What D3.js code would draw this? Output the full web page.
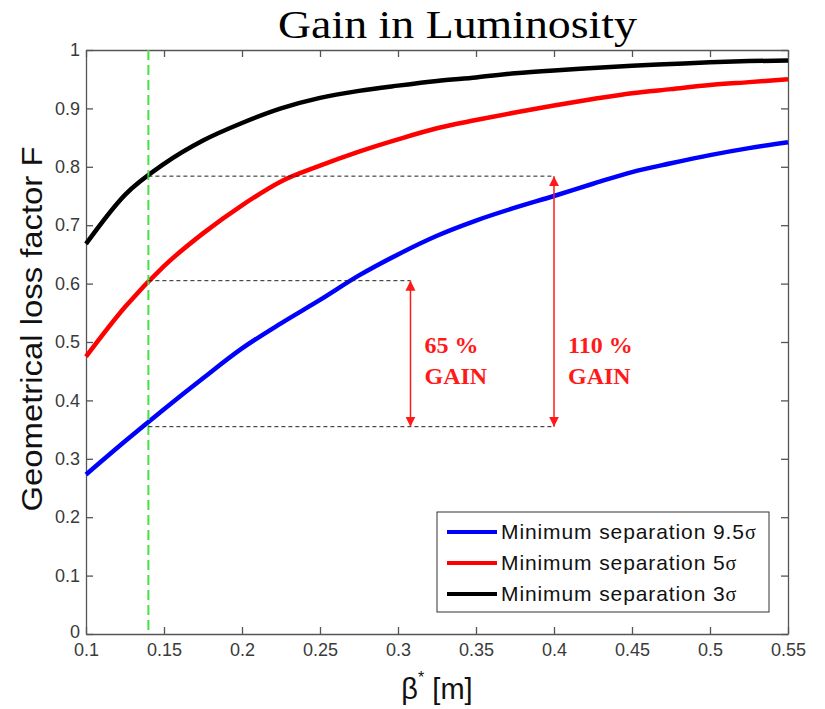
<!DOCTYPE html>
<html>
<head>
<meta charset="utf-8">
<script src="https://cdn.jsdelivr.net/npm/d3@7"></script>
<style>
  body { margin: 0; background: #fff; }
  svg { display: block; }
</style>
</head>
<body>
<svg id="chart" width="825" height="709"></svg>
<script>
// beta* values [m]
var betaValues = [0.1, 0.125, 0.15, 0.175, 0.2, 0.225, 0.25, 0.275, 0.3, 0.325, 0.35, 0.375, 0.4, 0.425, 0.45, 0.475, 0.5, 0.525, 0.55];

// geometrical loss factor
var lossSep95 = [0.273, 0.330, 0.385, 0.438, 0.489, 0.532, 0.572, 0.614, 0.650, 0.682, 0.708, 0.730, 0.750, 0.771, 0.791, 0.806, 0.820, 0.832, 0.842];
var lossSep5 = [0.475, 0.560, 0.630, 0.686, 0.734, 0.775, 0.802, 0.826, 0.847, 0.866, 0.880, 0.893, 0.905, 0.916, 0.926, 0.933, 0.940, 0.945, 0.950];
var lossSep3 = [0.668, 0.752, 0.805, 0.845, 0.875, 0.900, 0.918, 0.930, 0.939, 0.947, 0.953, 0.960, 0.965, 0.969, 0.973, 0.976, 0.979, 0.981, 0.982];

var seriesNames = ["Minimum separation 9.5", "Minimum separation 5", "Minimum separation 3"];
var seriesColors = ["#0000ff", "#ff0000", "#000000"];

var xTicks = [0.1, 0.15, 0.2, 0.25, 0.3, 0.35, 0.4, 0.45, 0.5, 0.55];
var yTicks = [0, 0.1, 0.2, 0.3, 0.4, 0.5, 0.6, 0.7, 0.8, 0.9, 1];

// the reference beta* and the gain markers
var betaRef = 0.14;
var gainLevels = [0.784, 0.605, 0.355];
var gainArrows = [
  { beta: 0.308, from: 0.355, to: 0.605, label: ["65 %", "GAIN"] },
  { beta: 0.4, from: 0.355, to: 0.784, label: ["110 %", "GAIN"] }
];

var margin = { left: 86, top: 50, right: 37, bottom: 75 };
var width = 825, height = 709;
var plotW = width - margin.left - margin.right;
var plotH = height - margin.top - margin.bottom;

var svg = d3.select("#chart");

var x = d3.scaleLinear().domain([0.1, 0.55]).range([0, plotW]);
var y = d3.scaleLinear().domain([0, 1]).range([plotH, 0]);

var g = svg.append("g")
  .attr("transform", "translate(" + margin.left + "," + margin.top + ")");

// arrow heads
var defs = svg.append("defs");
defs.append("marker")
  .attr("id", "head")
  .attr("viewBox", "0 0 10 10")
  .attr("refX", 10)
  .attr("refY", 5)
  .attr("markerWidth", 10)
  .attr("markerHeight", 11)
  .attr("markerUnits", "userSpaceOnUse")
  .attr("orient", "auto-start-reverse")
  .append("path")
  .attr("d", "M0,0L10,5L0,10Z")
  .attr("fill", "#ff1a1a");

// axes, matlab style box with inward ticks
function styleAxis(sel) {
  sel.select(".domain").attr("stroke", "#555").attr("stroke-width", 1.3);
  sel.selectAll(".tick line").attr("stroke", "#555").attr("stroke-width", 1.3);
  sel.selectAll(".tick text")
    .attr("fill", "#3a3a3a")
    .style("font-family", "Arial, 'Liberation Sans', sans-serif")
    .style("font-size", "18px");
}

var fmt = function (d) { return d3.format("~g")(d); };

g.append("g")
  .attr("transform", "translate(0," + plotH + ")")
  .call(d3.axisBottom(x).tickValues(xTicks).tickFormat(fmt).tickSizeInner(-7).tickSizeOuter(0).tickPadding(9))
  .call(styleAxis);

g.append("g")
  .call(d3.axisTop(x).tickValues(xTicks).tickFormat("").tickSizeInner(-7).tickSizeOuter(0))
  .call(styleAxis);

var yAxisG = g.append("g")
  .call(d3.axisLeft(y).tickValues(yTicks).tickFormat(fmt).tickSizeInner(-7).tickSizeOuter(0).tickPadding(6))
  .call(styleAxis);

// nudge the zero label so it clears the first x label
yAxisG.selectAll(".tick text")
  .filter(function (d) { return d === 0; })
  .attr("dy", "0.2em");

g.append("g")
  .attr("transform", "translate(" + plotW + ",0)")
  .call(d3.axisRight(y).tickValues(yTicks).tickFormat("").tickSizeInner(-7).tickSizeOuter(0))
  .call(styleAxis);

// curves
var series = [lossSep95, lossSep5, lossSep3];
var line = d3.line()
  .x(function (d, i) { return x(betaValues[i]); })
  .y(function (d) { return y(d); })
  .curve(d3.curveMonotoneX);

g.selectAll(".curve")
  .data(series)
  .enter()
  .append("path")
  .attr("class", "curve")
  .attr("fill", "none")
  .attr("stroke", function (d, i) { return seriesColors[i]; })
  .attr("stroke-width", 4.5)
  .attr("d", line);

// green dashed reference line
g.append("line")
  .attr("x1", x(betaRef)).attr("x2", x(betaRef))
  .attr("y1", 0).attr("y2", plotH)
  .attr("stroke", "#44e044")
  .attr("stroke-width", 2)
  .attr("stroke-dasharray", "10,5");

// black dashed levels
var levelEnds = [0.4, 0.308, 0.4];
g.selectAll(".level")
  .data(gainLevels)
  .enter()
  .append("line")
  .attr("class", "level")
  .attr("x1", x(betaRef))
  .attr("x2", function (d, i) { return x(levelEnds[i]); })
  .attr("y1", function (d) { return y(d); })
  .attr("y2", function (d) { return y(d); })
  .attr("stroke", "#222")
  .attr("stroke-width", 1)
  .attr("stroke-dasharray", "4,3");

// gain arrows
g.selectAll(".arrow")
  .data(gainArrows)
  .enter()
  .append("line")
  .attr("class", "arrow")
  .attr("x1", function (d) { return x(d.beta); })
  .attr("x2", function (d) { return x(d.beta); })
  .attr("y1", function (d) { return y(d.from); })
  .attr("y2", function (d) { return y(d.to); })
  .attr("stroke", "#ff1a1a")
  .attr("stroke-width", 1.5)
  .attr("marker-start", "url(#head)")
  .attr("marker-end", "url(#head)");

var labels = g.selectAll(".gain-label")
  .data(gainArrows)
  .enter()
  .append("text")
  .attr("class", "gain-label")
  .attr("fill", "#ff1a1a")
  .style("font-family", "'Liberation Serif', 'Times New Roman', serif")
  .style("font-weight", "bold")
  .style("font-size", "24px");

labels.selectAll("tspan")
  .data(function (d) { return d.label.map(function (t) { return { t: t, beta: d.beta }; }); })
  .enter()
  .append("tspan")
  .attr("x", function (d) { return x(d.beta) + 14; })
  .attr("y", function (d, i) { return 303 + i * 31; })
  .text(function (d) { return d.t; });

// legend
var legend = g.append("g")
  .attr("transform", "translate(" + (437 - margin.left) + "," + (512 - margin.top) + ")");

legend.append("rect")
  .attr("width", 332)
  .attr("height", 100)
  .attr("fill", "#fff")
  .attr("stroke", "#333")
  .attr("stroke-width", 1);

var rows = legend.selectAll(".row")
  .data(seriesNames)
  .enter()
  .append("g")
  .attr("class", "row")
  .attr("transform", function (d, i) { return "translate(0," + (20 + i * 31) + ")"; });

rows.append("line")
  .attr("x1", 10).attr("x2", 60)
  .attr("stroke", function (d, i) { return seriesColors[i]; })
  .attr("stroke-width", 4);

var rowText = rows.append("text")
  .attr("x", 64)
  .attr("dy", "0.35em")
  .attr("fill", "#111")
  .style("font-family", "Arial, 'Liberation Sans', sans-serif")
  .style("font-size", "21px")
  .style("letter-spacing", "0.9px");

rowText.append("tspan").text(function (d) { return d; });
rowText.append("tspan")
  .style("font-family", "'Liberation Serif', 'Times New Roman', serif")
  .style("font-size", "20px")
  .text("σ");

// title and axis labels
svg.append("text")
  .attr("x", 278)
  .attr("y", 38)
  .attr("textLength", 359)
  .attr("lengthAdjust", "spacingAndGlyphs")
  .style("font-family", "'Liberation Serif', 'Times New Roman', serif")
  .style("font-size", "40px")
  .attr("fill", "#000")
  .text("Gain in Luminosity");

svg.append("text")
  .attr("transform", "translate(42,329) rotate(-90)")
  .attr("text-anchor", "middle")
  .attr("textLength", 365)
  .attr("lengthAdjust", "spacingAndGlyphs")
  .style("font-family", "Arial, 'Liberation Sans', sans-serif")
  .style("font-size", "29px")
  .attr("fill", "#111")
  .text("Geometrical loss factor F");

var xLabel = svg.append("text")
  .attr("x", 437)
  .attr("y", 699)
  .attr("text-anchor", "middle")
  .style("font-family", "Arial, 'Liberation Sans', sans-serif")
  .style("font-size", "29px")
  .attr("fill", "#111");

xLabel.append("tspan").text("β");
xLabel.append("tspan").attr("dy", -16).style("font-size", "16px").text("*");
xLabel.append("tspan").attr("dy", 16).text(" [m]");
</script>
</body>
</html>
